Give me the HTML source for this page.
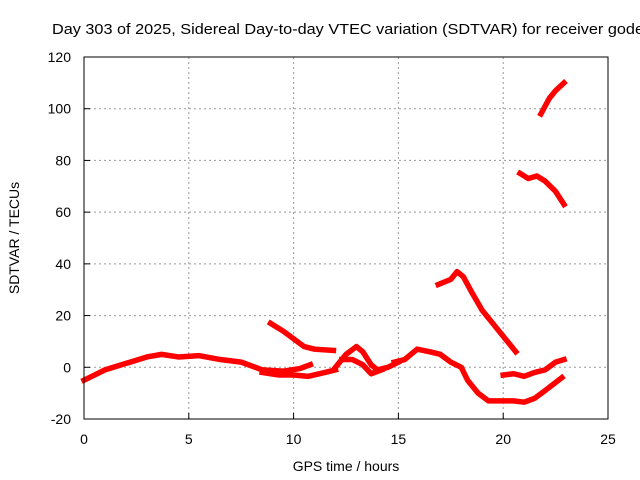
<!DOCTYPE html>
<html><head><meta charset="utf-8"><style>
body{margin:0;background:#fff}
svg{display:block;font-family:"Liberation Sans",sans-serif}
</style></head><body>
<svg id="c" width="640" height="480">
<text x="52" y="34" font-size="15" textLength="592" lengthAdjust="spacingAndGlyphs">Day 303 of 2025, Sidereal Day-to-day VTEC variation (SDTVAR) for receiver gode</text>
<text x="346" y="471" font-size="14" text-anchor="middle">GPS time / hours</text>
<text transform="translate(19,238) rotate(-90)" font-size="14" text-anchor="middle">SDTVAR / TECUs</text>
<g id="grid"></g><g id="ticks"></g><g id="series"></g>
<rect x="84" y="57" width="524" height="362" fill="none" stroke="#000" stroke-width="1"/>
</svg>
<script>
const xTicks=[0,5,10,15,20,25];
const yTicks=[-20,0,20,40,60,80,100,120];
const segA1=[[0,-5],[0.5,-3],[1,-1],[2,1.5],[3,4],[3.7,5],[4.5,4],[5.5,4.5],[6.5,3],[7.5,2],[8.5,-1],[9.5,-1.5],[10.3,-0.5],[10.8,1]];
const segA2=[[8.5,-2],[9.3,-3],[10,-3],[10.7,-3.5],[11.5,-2],[12,-1]];
const segB=[[8.9,17],[9.5,14],[10,11],[10.5,8],[11,7],[11.9,6.5]];
const segC1=[[12,0],[12.5,5],[13,8],[13.3,6],[13.7,1],[14,-1],[14.5,0],[15,2]];
const segC2=[[12.3,3],[12.8,3],[13.3,1],[13.7,-2.5],[14.2,-1]];
const segD=[[14.8,2],[15.3,3],[15.9,7],[16.5,6],[17,5],[17.5,2],[18,0],[18.3,-5],[18.8,-10],[19.3,-13],[20,-13],[20.5,-13],[21,-13.5],[21.5,-12],[22,-9],[22.8,-4]];
const segE=[[20,-3],[20.5,-2.5],[21,-3.5],[21.5,-2],[22,-1],[22.5,2],[22.9,3]];
const segF=[[16.9,32],[17.5,34],[17.8,37],[18.1,35],[18.5,29],[19,22],[19.5,17],[20,12],[20.6,6]];
const segG=[[20.8,75],[21.2,73],[21.6,74],[22,72],[22.5,68],[22.9,63]];
const segH=[[21.8,98],[22.2,104],[22.5,107],[22.9,110]];
const allSeg=[segA1,segA2,segB,segC1,segC2,segD,segE,segF,segG,segH];
const X=v=>84+v*(524/25), Y=v=>419-(v+20)*(362/140);
const NS="http://www.w3.org/2000/svg";
function mk(t,a,p){const e=document.createElementNS(NS,t);for(const k in a)e.setAttribute(k,a[k]);p.appendChild(e);return e;}
const g=document.getElementById('grid'),tk=document.getElementById('ticks'),s=document.getElementById('series');
xTicks.forEach(v=>{
 if(v>0&&v<25){const l=mk('line',{x1:X(v),x2:X(v),y1:57,y2:419,stroke:'#999','stroke-dasharray':'2,3'},g);
 
 }
 const t=mk('text',{x:X(v),y:444,'font-size':14,'text-anchor':'middle'},tk);t.textContent=v;
 
 
 mk('line',{x1:X(v),x2:X(v),y1:419,y2:413,stroke:'#000'},tk);
});
yTicks.forEach(v=>{
 if(v>-20&&v<120){const l=mk('line',{x1:84,x2:608,y1:Y(v),y2:Y(v),stroke:'#999','stroke-dasharray':'2,3'},g);
 
 }
 const t=mk('text',{x:71,y:Y(v)+5,'font-size':14,'text-anchor':'end'},tk);t.textContent=v;
 
 
 mk('line',{x1:84,x2:90,y1:Y(v),y2:Y(v),stroke:'#000'},tk);
});
allSeg.forEach((seg,i)=>{
 const p=mk('polyline',{points:seg.map(d=>X(d[0])+','+Y(d[1])).join(' '),fill:'none',stroke:'#f00','stroke-width':5.5,'stroke-linejoin':'round','stroke-linecap':'square'},s);
 
 
});
</script>
</body></html>
